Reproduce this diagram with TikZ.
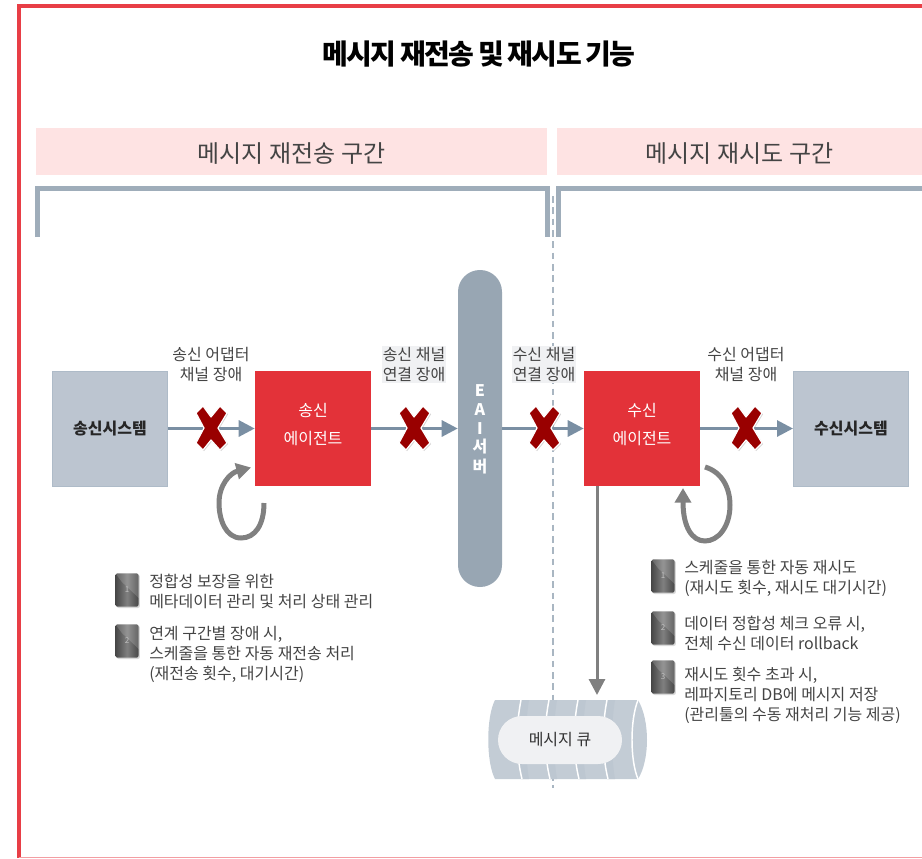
\documentclass[tikz,border=0pt]{standalone}
\usepackage{fontspec}
\setmainfont{Noto Sans CJK KR}
\usetikzlibrary{arrows.meta,shadows,positioning}
\definecolor{dfred}{RGB}{227,50,57}
\definecolor{dfborder}{RGB}{232,62,70}
\definecolor{dfband}{RGB}{254,227,227}
\definecolor{dfbracket}{RGB}{159,173,186}
\definecolor{dfdash}{RGB}{169,182,194}
\definecolor{dfsystem}{RGB}{188,197,208}
\definecolor{dfsystemline}{RGB}{174,187,200}
\definecolor{dfserver}{RGB}{152,166,179}
\definecolor{dfarrow}{RGB}{122,143,163}
\definecolor{dfloop}{RGB}{128,128,128}
\definecolor{dflabel}{RGB}{240,241,243}
\definecolor{dftext}{RGB}{68,68,68}
\definecolor{dfcross}{RGB}{153,0,0}
\definecolor{dfqueue}{RGB}{195,204,213}
\definecolor{dfqueuedark}{RGB}{189,199,209}
\tikzstyle{bandbox} = [rectangle, inner sep=0pt, minimum height=35.25pt, text height=20.5pt, text depth=4pt, fill=dfband, text=dftext, font=\fontsize{18}{22}\selectfont]
\tikzstyle{systembox} = [rectangle, inner sep=0pt, minimum width=86.25pt, minimum height=86.25pt, fill=dfsystem, draw=dfsystemline, line width=0.75pt, text=black!85, font=\fontsize{12}{14}\selectfont\bfseries]
\tikzstyle{agentbox} = [rectangle, inner sep=0pt, minimum width=87pt, minimum height=86.25pt, fill=dfred]
\tikzstyle{agenttext} = [inner sep=0pt, text=white, align=center, font=\fontsize{12}{21}\selectfont]
\tikzstyle{faultlabel} = [inner sep=1.5pt, align=center, text=dftext, font=\fontsize{12}{15}\selectfont]
\tikzstyle{notetext} = [inner sep=0pt, anchor=west, align=left, text=dftext, font=\fontsize{12}{15}\selectfont]
\tikzstyle{badge} = [rectangle, rounded corners=1.5pt, inner sep=0pt, minimum width=17.25pt, minimum height=25pt, left color=black!72, right color=black!72, middle color=black!50, text=black!25, font=\fontsize{6}{7}\selectfont, drop shadow={shadow xshift=1pt, shadow yshift=-1pt, opacity=0.3}]
\tikzstyle{flow} = [line width=2.25pt, color=dfarrow, -{Triangle[length=12pt, width=12pt]}]
\tikzstyle{retry} = [line width=3.75pt, color=dfloop, -{Triangle[length=11pt, width=12pt]}]
\tikzstyle{crossmark} = [fill=dfcross, draw=white, line width=0.9pt, line join=round, drop shadow={shadow xshift=0.8pt, shadow yshift=-0.8pt, opacity=0.35}]
\tikzstyle{bracket} = [line width=3.75pt, color=dfbracket]
\begin{document}
\begin{tikzpicture}[x=0.75pt, y=-0.75pt]
\useasboundingbox (0,0) rectangle (922,858);

% Frame
\draw[line width=3pt, color=dfborder] (18.5,858) -- (18.5,5.5) -- (922,5.5);
\draw[line width=0.75pt, color=dfborder!50] (18.5,857.5) -- (922,857.5);

% Title
\node (title) at (479,54) {\fontsize{21}{24}\selectfont\bfseries\addfontfeatures{LetterSpace=-6}\spaceskip=0.14em\relax 메시지 재전송 및 재시도 기능};

% Sections
\node[bandbox, minimum width=383.25pt] (sendband) at (291.5,151.5) {메시지 재전송 구간};
\node[bandbox, minimum width=273.75pt] (recvband) at (739.5,151.5) {메시지 재시도 구간};
\draw[bracket] (37.5,237) -- (37.5,188.5) -- (547,188.5) -- (547,237);
\draw[bracket] (922,188.5) -- (558,188.5) -- (558,237);
\draw[dashed, line width=1.1pt, color=dfdash, dash pattern=on 5pt off 3.5pt] (553,196) -- (553,788);

% Queue
\path[fill=dfqueue] (495,700) -- (638,700) .. controls (650,720) and (650,760) .. (638,779) -- (495,779) .. controls (486,762) and (486,717) .. (495,700) -- cycle;
\foreach \x in {521,549,578,607} {
  \path[fill=dfqueuedark] (\x,700) .. controls (\x-5,725) and (\x-5,755) .. (\x,779) -- (\x+8,779) .. controls (\x+4,755) and (\x+4,725) .. (\x+8,700) -- cycle;
  \draw[line width=1.1pt, color=white] (\x,700) .. controls (\x-5,725) and (\x-5,755) .. (\x+1,779);
}
\draw[line width=1.1pt, color=white] (638,700) .. controls (630,720) and (630,760) .. (638,779);
\node[rectangle, rounded corners=18pt, minimum width=93pt, minimum height=36pt, inner sep=0pt, fill=dflabel, text=black!80, font=\fontsize{12}{14}\selectfont] (queue) at (560,740) {메시지 큐};

% Boxes
\node[systembox] (sendsys) at (110,428.5) {송신시스템};
\node[agentbox] (sendagent) at (313,428.5) {};
\node[agenttext] (sendtext) at (313,424.5) {송신\\에이전트};
\node[agentbox] (recvagent) at (642,428.5) {};
\node[agenttext] (recvtext) at (642,424.5) {수신\\에이전트};
\node[systembox] (recvsys) at (851,428.5) {수신시스템};
\node[rectangle, rounded corners=16.4pt, inner sep=0pt, minimum width=33pt, minimum height=237.75pt, fill=dfserver] (eai) at (480,428.5) {};
\foreach \t/\y in {E/391,A/410,I/429,서/447,버/467}
  \node[inner sep=0pt, text=white, font=\fontsize{12}{14}\selectfont\bfseries] (eai\t) at (480,\y) {\t};

% Flows
\draw[flow] (sendsys) -- (sendagent);
\draw[flow] (sendagent) -- (eai);
\draw[flow] (eai) -- (recvagent);
\draw[flow] (recvagent) -- (recvsys);
\coordinate (queuetop) at (597,695);
\draw[line width=2.25pt, color=dfloop, -{Triangle[length=12pt, width=12pt]}] (recvagent.south -| queuetop) -- (queuetop);

% Retry loops
\coordinate (sendloop) at (264,503);
\coordinate (sendloopend) at (251,467.5);
\draw[retry] (sendloop) .. controls (264,525) and (255,538) .. (241,538) .. controls (226,538) and (219,520) .. (219,503) .. controls (219,485) and (230,473) .. (sendloopend);
\coordinate (recvloop) at (705,467);
\coordinate (recvloopend) at (683,488);
\draw[retry] (recvloop) .. controls (722,472) and (730,488) .. (730,505) .. controls (730,527) and (718,541) .. (705,541) .. controls (692,541) and (683,527) .. (recvloopend);

% Fault labels
\node[faultlabel] (fault1) at (211,364.5) {송신 어댑터\\채널 장애};
\node[faultlabel, fill=dflabel, inner sep=0.8pt] (fault2) at (414,364.5) {송신 채널\\연결 장애};
\node[faultlabel, fill=dflabel, inner sep=0.8pt] (fault3) at (544,364.5) {수신 채널\\연결 장애};
\node[faultlabel] (fault4) at (746,364.5) {수신 어댑터\\채널 장애};

% Cross marks
\foreach \x in {211,414,544,746}
  \path[crossmark, shift={(\x,428)}] (-15,-15) -- (-8,-22) -- (0,-11) -- (9,-22) -- (16,-15) -- (7,0) -- (16,15) -- (9,22) -- (0,12) -- (-8,22) -- (-15,15) -- (-7,0) -- cycle;

% Notes
\foreach \x/\y/\n/\m in {127/590/1/a,127/641/2/b,663/576/1/c,663/628/2/d,663/677/3/e} {
  \node[badge] (badge\m) at (\x,\y) {\n};
  \path[fill=white, fill opacity=0.16] (badge\m.north west) -- (badge\m.north east) -- ([yshift=-6pt]badge\m.east) -- ([xshift=5pt,yshift=6pt]badge\m.west) -- cycle;
}
\node[notetext] (notea) at (149,591) {정합성 보장을 위한\\메타데이터 관리 및 처리 상태 관리};
\node[notetext] (noteb) at (149,654) {연계 구간별 장애 시,\\스케줄을 통한 자동 재전송 처리\\(재전송 횟수, 대기시간)};
\node[notetext] (notec) at (684,578) {스케줄을 통한 자동 재시도\\(재시도 횟수, 재시도 대기시간)};
\node[notetext] (noted) at (684,633) {데이터 정합성 체크 오류 시,\\전체 수신 데이터 rollback};
\node[notetext] (notee) at (684,695) {재시도 횟수 초과 시,\\레파지토리 DB에 메시지 저장\\(관리툴의 수동 재처리 기능 제공)};
\end{tikzpicture}
\end{document}
